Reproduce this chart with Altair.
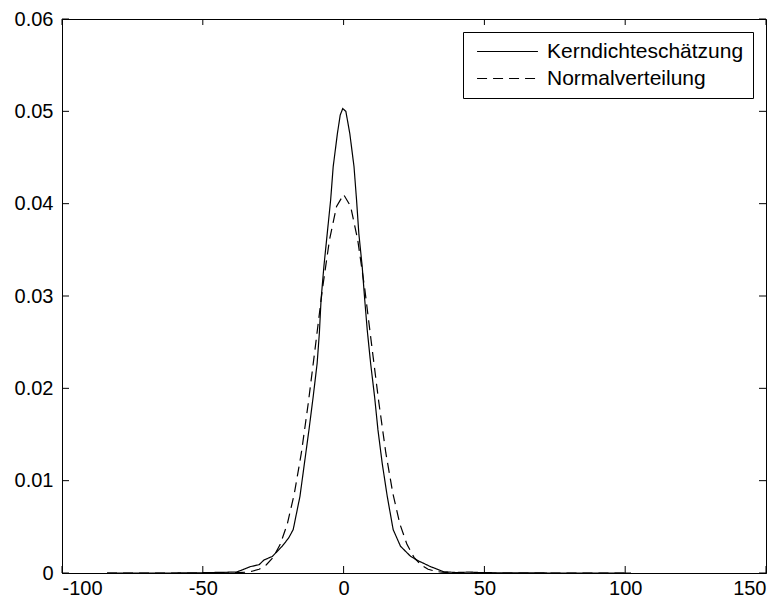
import altair as alt
import pandas as pd

# Kernel density estimate
kde_x = [-84, -60, -50, -42, -38, -33, -30, -28.3, -25.3, -21.8, -19.5, -17.9, -15.5, -13.9,
         -12.3, -10.8, -9.4, -8.6, -8.0, -7.0, -5.8, -4.6, -3.7, -2.2, -1.2, -0.3, 0.8, 2.2,
         3.7, 4.6, 5.4, 6.6, 7.5, 8.4, 9.6, 11.0, 12.2, 13.7, 15.5, 17.6, 20.2, 23.8, 26.0,
         30.8, 35.5, 40, 45, 48, 55, 75, 102]
kde_y = [0.0, 0.0, 0.00003, 0.00008, 0.0001, 0.0007, 0.0009, 0.0014, 0.0018, 0.0029, 0.0038,
         0.0047, 0.0083, 0.0119, 0.0155, 0.0191, 0.0227, 0.0260, 0.0296, 0.0332, 0.0368,
         0.0404, 0.0440, 0.0476, 0.0496, 0.0503, 0.0500, 0.0476, 0.0440, 0.0404, 0.0368,
         0.0332, 0.0296, 0.0263, 0.0227, 0.0191, 0.0155, 0.0119, 0.0083, 0.0047, 0.0029,
         0.0018, 0.0014, 0.0007, 0.00014, 0.00005, 0.0001, 0.00005, 0.00002, 0.0, 0.0]

# Normal distribution curve
norm_x = [-84, -45, -40, -35, -32.5, -30, -27.5, -25, -22.5, -20, -17.5, -15, -12.5, -10,
          -7.5, -5, -2.5, 0, 2.5, 5, 7.5, 10, 12.5, 15, 17.5, 20, 22.5, 25, 27.5, 30, 32.5,
          35, 40, 45, 102]
norm_y = [0.0, 0.0, 0.00001, 0.00008, 0.00019, 0.00041, 0.00087, 0.0017, 0.0031, 0.0053,
          0.0086, 0.0130, 0.0185, 0.0246, 0.0308, 0.0361, 0.0397, 0.0410, 0.0397, 0.0361,
          0.0308, 0.0246, 0.0185, 0.0130, 0.0086, 0.0053, 0.0031, 0.0017, 0.00087, 0.00041,
          0.00019, 0.00008, 0.00001, 0.0, 0.0]

series_names = ["Kerndichteschätzung", "Normalverteilung"]
x_ticks = [-100, -50, 0, 50, 100, 150]
y_ticks = [0, 0.01, 0.02, 0.03, 0.04, 0.05, 0.06]

W, H = 704, 554
FONT = "Liberation Sans"

df = pd.concat([
    pd.DataFrame({"x": kde_x, "y": kde_y, "Kurve": series_names[0], "o": range(len(kde_x))}),
    pd.DataFrame({"x": norm_x, "y": norm_y, "Kurve": series_names[1], "o": range(len(norm_x))}),
])

xs = alt.Scale(domain=[-100, 150], nice=False, zero=False)
ys = alt.Scale(domain=[0, 0.06], nice=False)

lines = alt.Chart(df).mark_line(color="black", strokeWidth=1.2, clip=True).encode(
    x=alt.X("x:Q", scale=xs, axis=alt.Axis(values=x_ticks, title=None, ticks=False,
                                            labelPadding=5, grid=False,
                                            labelExpr="toString(datum.value)")),
    y=alt.Y("y:Q", scale=ys, axis=alt.Axis(values=y_ticks, title=None, ticks=False,
                                            labelPadding=9, format=".2~f", grid=False)),
    strokeDash=alt.StrokeDash(
        "Kurve:N",
        scale=alt.Scale(domain=series_names, range=[[1, 0], [10, 6]]),
        legend=alt.Legend(
            title=None, orient="none", legendX=401, legendY=13,
            symbolType="M-6,0H6", symbolSize=103, symbolStrokeWidth=1.2,
            symbolStrokeColor="black", symbolOffset=25,
            labelFontSize=21, labelFont=FONT, labelLimit=400,
            labelColor="black", labelOffset=29, padding=9, rowPadding=5,
            fillColor="white", strokeColor="black", cornerRadius=0,
        ),
    ),
    order="o:Q",
)

xt = pd.DataFrame({"v": x_ticks})
yt = pd.DataFrame({"v": y_ticks})

xtick_bottom = alt.Chart(xt).mark_rule(color="black").encode(
    x=alt.X("v:Q", scale=xs), y=alt.value(H), y2=alt.value(H - 7))
xtick_top = alt.Chart(xt).mark_rule(color="black").encode(
    x=alt.X("v:Q", scale=xs), y=alt.value(0), y2=alt.value(6))
ytick_left = alt.Chart(yt).mark_rule(color="black").encode(
    y=alt.Y("v:Q", scale=ys), x=alt.value(0), x2=alt.value(7))
ytick_right = alt.Chart(yt).mark_rule(color="black").encode(
    y=alt.Y("v:Q", scale=ys), x=alt.value(W), x2=alt.value(W - 7))

chart = alt.layer(lines, xtick_bottom, xtick_top, ytick_left, ytick_right).properties(
    width=W, height=H,
    autosize=alt.AutoSizeParams(type="none"),
    padding={"left": 54, "top": 11, "right": 9, "bottom": 25},
    background="white",
).configure_view(
    stroke="black", strokeWidth=1
).configure_axis(
    domainColor="black", domainWidth=1, labelColor="black", labelFont=FONT,
    labelFontSize=20,
)

chart.save("out.html", embed_options={"renderer": "svg", "actions": False})
